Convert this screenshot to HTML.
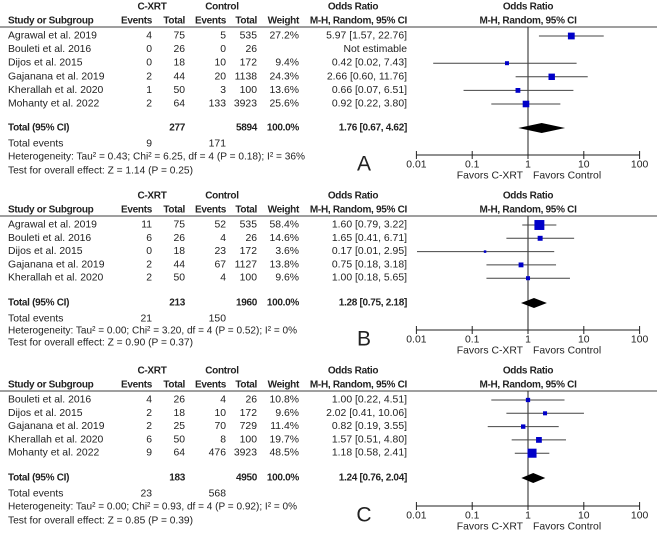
<!DOCTYPE html>
<html><head><meta charset="utf-8"><style>
html,body{margin:0;padding:0;background:#fff;}
svg{display:block;font-family:"Liberation Sans",Arial,sans-serif;}
</style></head><body>
<svg id="chart" width="669" height="549" viewBox="0 0 669 549" xmlns="http://www.w3.org/2000/svg"></svg>
<script>
// Panel A data
const studiesA = ["Agrawal et al. 2019","Bouleti et al. 2016","Dijos et al. 2015","Gajanana et al. 2019","Kherallah et al. 2020","Mohanty et al. 2022"];
const evA = ["4","0","0","2","1","2"];
const totA = ["75","26","18","44","50","64"];
const cevA = ["5","0","10","20","3","133"];
const ctotA = ["535","26","172","1138","100","3923"];
const wA = [27.2, null, 9.4, 24.3, 13.6, 25.6];
const orA = [5.97, null, 0.42, 2.66, 0.66, 0.92];
const loA = [1.57, null, 0.02, 0.60, 0.07, 0.22];
const hiA = [22.76, null, 7.43, 11.76, 6.51, 3.80];
const totalA = [1.76, 0.67, 4.62];
const sumA = ["277","5894","9","171"];
const hetA = "Heterogeneity: Tau\u00b2 = 0.43; Chi\u00b2 = 6.25, df = 4 (P = 0.18); I\u00b2 = 36%";
const testA = "Test for overall effect: Z = 1.14 (P = 0.25)";
// Panel B data
const studiesB = ["Agrawal et al. 2019","Bouleti et al. 2016","Dijos et al. 2015","Gajanana et al. 2019","Kherallah et al. 2020"];
const evB = ["11","6","0","2","2"];
const totB = ["75","26","18","44","50"];
const cevB = ["52","4","23","67","4"];
const ctotB = ["535","26","172","1127","100"];
const wB = [58.4, 14.6, 3.6, 13.8, 9.6];
const orB = [1.60, 1.65, 0.17, 0.75, 1.00];
const loB = [0.79, 0.41, 0.01, 0.18, 0.18];
const hiB = [3.22, 6.71, 2.95, 3.18, 5.65];
const totalB = [1.28, 0.75, 2.18];
const sumB = ["213","1960","21","150"];
const hetB = "Heterogeneity: Tau\u00b2 = 0.00; Chi\u00b2 = 3.20, df = 4 (P = 0.52); I\u00b2 = 0%";
const testB = "Test for overall effect: Z = 0.90 (P = 0.37)";
// Panel C data
const studiesC = ["Bouleti et al. 2016","Dijos et al. 2015","Gajanana et al. 2019","Kherallah et al. 2020","Mohanty et al. 2022"];
const evC = ["4","2","2","6","9"];
const totC = ["26","18","25","50","64"];
const cevC = ["4","10","70","8","476"];
const ctotC = ["26","172","729","100","3923"];
const wC = [10.8, 9.6, 11.4, 19.7, 48.5];
const orC = [1.00, 2.02, 0.82, 1.57, 1.18];
const loC = [0.22, 0.41, 0.19, 0.51, 0.58];
const hiC = [4.51, 10.06, 3.55, 4.80, 2.41];
const totalC = [1.24, 0.76, 2.04];
const sumC = ["183","4950","23","568"];
const hetC = "Heterogeneity: Tau\u00b2 = 0.00; Chi\u00b2 = 0.93, df = 4 (P = 0.92); I\u00b2 = 0%";
const testC = "Test for overall effect: Z = 0.85 (P = 0.39)";
const tickVals = [0.01, 0.1, 1, 10, 100];
const tickLabels = ["0.01","0.1","1","10","100"];

const svg = document.getElementById('chart');
const NS = "http://www.w3.org/2000/svg";
const X0 = 528, DEC = 55.8;
function xs(v){ return X0 + DEC * Math.log10(v); }
function mk(tag, attrs, parent){
  const e = document.createElementNS(NS, tag);
  for (const k in attrs) e.setAttribute(k, attrs[k]);
  (parent||svg).appendChild(e); return e;
}
function txt(g, x, y, s, anchor, bold, size){
  const a = {x:x, y:y, 'font-size': size||(bold?10:10.4), fill:'#222', 'text-anchor':anchor||'start', 'dominant-baseline':'central', 'font-weight': bold?'bold':'normal'};
  if (bold) a['letter-spacing'] = '-0.3';
  const t = mk('text', a, g);
  t.textContent = s; return t;
}
function fmt(v){ return v.toFixed(2); }

function panel(letter, top, rowGap, totalY, evY, hetY, testY, axisY, studies, ev, tot, cev, ctot, w, or, lo, hi, total, sum, het, test){
  const g = mk('g', {});
  
  
  const h1 = top, h2 = top + 14, line = top + 20, r0 = top + 29;
  let t;
  t = txt(g, 152, h1, "C-XRT", 'middle', true);  
  t = txt(g, 222, h1, "Control", 'middle', true);  
  t = txt(g, 353, h1, "Odds Ratio", 'middle', true);  
  t = txt(g, 528, h1, "Odds Ratio", 'middle', true);  
  const hdr = [[8,'Study or Subgroup','start'],[152,'Events','end'],[185,'Total','end'],[226,'Events','end'],[257,'Total','end'],[299,'Weight','end'],[407,'M-H, Random, 95% CI','end'],[528,'M-H, Random, 95% CI','middle']];
  hdr.forEach(h => { const e = txt(g, h[0], h2, h[1], h[2], true);   });
  const hl = mk('line', {x1:0, x2:657, y1:line, y2:line, stroke:'#666', 'stroke-width':1.2}, g);
   
  const vl = mk('line', {x1:xs(1), x2:xs(1), y1:line, y2:axisY, stroke:'#222', 'stroke-width':1}, g);
   
  studies.forEach((s, i) => {
    const y = r0 + i * rowGap;
    const rg = mk('g', {}, g);
     
    txt(rg, 8, y, s);
    txt(rg, 152, y, ev[i], 'end'); txt(rg, 185, y, tot[i], 'end');
    txt(rg, 226, y, cev[i], 'end'); txt(rg, 257, y, ctot[i], 'end');
    if (w[i] != null) {
      txt(rg, 299, y, w[i].toFixed(1) + '%', 'end');
      txt(rg, 407, y, fmt(or[i]) + ' [' + fmt(lo[i]) + ', ' + fmt(hi[i]) + ']', 'end');
      const ci = mk('line', {x1:Math.max(417,xs(lo[i])), x2:Math.min(640,xs(hi[i])), y1:y, y2:y, stroke:'#444', 'stroke-width':1}, rg);
       
      const sz = Math.max(2.5, 1.3 * Math.sqrt(w[i]));
      const sq = mk('rect', {x:xs(or[i]) - sz/2, y:y - sz/2, width:sz, height:sz, fill:'#0000c8'}, rg);
       
    } else {
      txt(rg, 407, y, 'Not estimable', 'end');
    }
  });
  const tg = mk('g', {}, g);
   
  txt(tg, 8, totalY, 'Total (95% CI)', 'start', true);
  txt(tg, 185, totalY, sum[0], 'end', true);
  txt(tg, 257, totalY, sum[1], 'end', true);
  txt(tg, 299, totalY, '100.0%', 'end', true);
  txt(tg, 407, totalY, fmt(total[0]) + ' [' + fmt(total[1]) + ', ' + fmt(total[2]) + ']', 'end', true);
  const d = mk('polygon', {points: xs(total[1])+','+totalY+' '+xs(total[0])+','+(totalY-5)+' '+xs(total[2])+','+totalY+' '+xs(total[0])+','+(totalY+5), fill:'#000'}, tg);
   
  t = txt(g, 8, evY, 'Total events');  
  txt(g, 152, evY, sum[2], 'end'); txt(g, 226, evY, sum[3], 'end');
  t = txt(g, 8, hetY, het);  
  t.setAttribute('textLength', letter === 'A' ? 297 : 289); t.setAttribute('lengthAdjust','spacingAndGlyphs');
  t = txt(g, 8, testY, test);  
  t.setAttribute('textLength', 185); t.setAttribute('lengthAdjust','spacingAndGlyphs');
  t = txt(g, 364, axisY + 9, letter, 'middle', false, 21);  
  const ag = mk('g', {}, g);
   
  mk('line', {x1:xs(0.01), x2:xs(100), y1:axisY, y2:axisY, stroke:'#222', 'stroke-width':1}, ag);
  tickVals.forEach((v, i) => {
    const tk = mk('line', {x1:xs(v), x2:xs(v), y1:axisY-4, y2:axisY+4, stroke:'#222', 'stroke-width':1}, ag);
     
    const lb = txt(ag, xs(v), axisY + 10, tickLabels[i], 'middle');
     
  });
  t = txt(g, 523, axisY + 21, 'Favors C-XRT', 'end');  
  t = txt(g, 533, axisY + 21, 'Favors Control', 'start');  
}
panel('A', 7, 13.6, 128, 144, 157, 171, 155, studiesA, evA, totA, cevA, ctotA, wA, orA, loA, hiA, totalA, sumA, hetA, testA);
panel('B', 196, 13.3, 303, 319, 331, 343, 330, studiesB, evB, totB, cevB, ctotB, wB, orB, loB, hiB, totalB, sumB, hetB, testB);
panel('C', 371, 13.3, 478, 494, 507, 521, 506, studiesC, evC, totC, cevC, ctotC, wC, orC, loC, hiC, totalC, sumC, hetC, testC);
</script>
</body></html>
